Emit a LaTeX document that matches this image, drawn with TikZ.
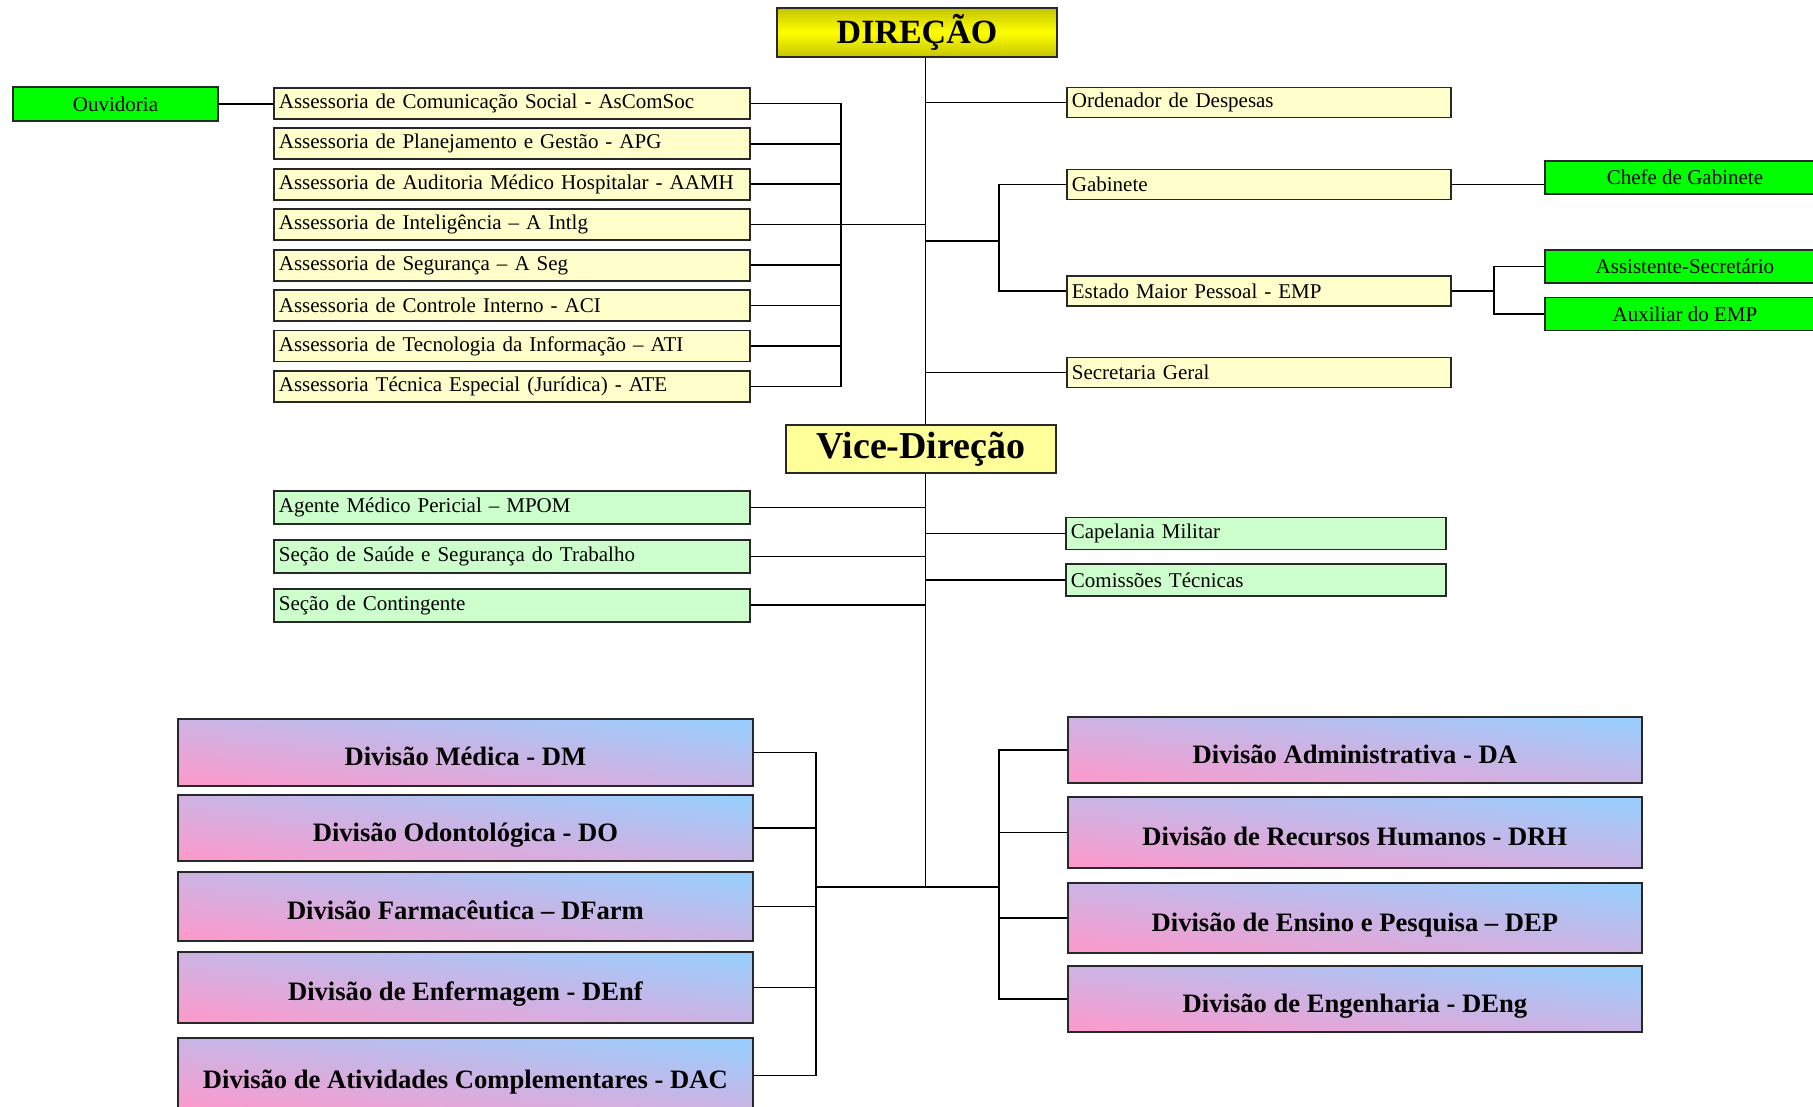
\documentclass[tikz,border=0pt]{standalone}
\usepackage{fontspec}
\setmainfont{Liberation Serif}
\usepackage{xcolor}
\usepackage{tikz}
\usetikzlibrary{positioning}
\definecolor{diredge}{RGB}{196,196,0}
\definecolor{dirmid}{RGB}{255,255,0}
\definecolor{viceyellow}{RGB}{255,255,153}
\definecolor{asyellow}{RGB}{255,255,204}
\definecolor{palegreen}{RGB}{204,255,204}
\definecolor{flashgreen}{RGB}{0,255,0}
\definecolor{divpink}{RGB}{250,155,205}
\definecolor{divblue}{RGB}{155,205,252}
\definecolor{boxline}{RGB}{40,40,40}

\begin{document}
\begin{tikzpicture}[x=0.5pt, y=-0.5pt, node distance=3.8pt]
  \tikzstyle{base}=[rectangle,draw=boxline,line width=0.9pt,inner sep=0pt]
  \tikzstyle{asbox}=[base,fill=asyellow,minimum width=238pt,minimum height=15.5pt,text width=233pt,align=left,font=\fontsize{10.5}{12}\selectfont]
  \tikzstyle{rtbox}=[asbox,minimum width=192pt,text width=187pt,minimum height=15pt]
  \tikzstyle{pgbox}=[asbox,fill=palegreen,minimum height=16.5pt]
  \tikzstyle{pgrt}=[rtbox,fill=palegreen,minimum width=190pt,text width=185pt,minimum height=16pt]
  \tikzstyle{gbox}=[base,fill=flashgreen,minimum width=140pt,minimum height=16.5pt,font=\fontsize{10.5}{12}\selectfont]
  \tikzstyle{dirbox}=[base,top color=diredge,bottom color=diredge,middle color=dirmid,minimum width=140pt,minimum height=24.5pt,font=\bfseries\fontsize{17}{20}\selectfont]
  \tikzstyle{vicebox}=[base,fill=viceyellow,minimum width=135pt,minimum height=24pt,font=\bfseries\fontsize{19}{22}\selectfont]
  \tikzstyle{divbox}=[base,shading=axis,bottom color=divpink,top color=divblue,shading angle=-7,minimum width=287.5pt,text height=13pt,text depth=0pt,font=\bfseries\fontsize{13.3}{15}\selectfont]

  \useasboundingbox (0,0) rectangle (1813,1107);
  \clip (0,0) rectangle (1813,1107);
  \fill[white] (0,0) rectangle (1813,1107);

  \node[dirbox] (dir) at (917,32.5) {DIREÇÃO};
  \node[gbox,minimum width=102.5pt,minimum height=17pt] (ouv) at (115.5,104) {Ouvidoria};

  \node[asbox,anchor=west] (asc1) at (273,103.5) {Assessoria de Comunicação Social - AsComSoc};
  \node[asbox,below=of asc1] (asc2) {Assessoria de Planejamento e Gestão - APG};
  \node[asbox,below=of asc2] (asc3) {Assessoria de Auditoria Médico Hospitalar - AAMH};
  \node[asbox,below=of asc3] (asc4) {Assessoria de Inteligência – A Intlg};
  \node[asbox,below=of asc4] (asc5) {Assessoria de Segurança – A Seg};
  \node[asbox,below=of asc5] (asc6) {Assessoria de Controle Interno - ACI};
  \node[asbox,below=of asc6] (asc7) {Assessoria de Tecnologia da Informação – ATI};
  \node[asbox,below=of asc7] (asc8) {Assessoria Técnica Especial (Jurídica) - ATE};

  \node[rtbox,anchor=west] (ord) at (1066,102.5) {Ordenador de Despesas};
  \node[rtbox,anchor=west] (gab) at (1066,184.5) {Gabinete};
  \node[rtbox,anchor=west] (emp) at (1066,291) {Estado Maior Pessoal - EMP};
  \node[rtbox,anchor=west] (sec) at (1066,372.5) {Secretaria Geral};
  \node[gbox,anchor=west] (chf) at (1544,177.5) {Chefe de Gabinete};
  \node[gbox,anchor=west] (ast) at (1544,266.5) {Assistente-Secretário};
  \node[gbox,anchor=west] (aux) at (1544,314) {Auxiliar do EMP};

  \node[vicebox] (vice) at (921,449) {Vice-Direção};
  \node[pgbox,anchor=west] (mpom) at (273,507.5) {Agente Médico Pericial – MPOM};
  \node[pgbox,below=7pt of mpom] (sst) {Seção de Saúde e Segurança do Trabalho};
  \node[pgbox,below=7pt of sst] (ctg) {Seção de Contingente};
  \node[pgrt,anchor=west] (cap) at (1065,533.5) {Capelania Militar};
  \node[pgrt,anchor=west] (cms) at (1065,580) {Comissões Técnicas};

  \node[divbox,minimum height=33.5pt,anchor=west] (dm) at (177,752.5) {Divisão Médica - DM};
  \node[divbox,minimum height=33pt,anchor=west] (dod) at (177,828) {Divisão Odontológica - DO};
  \node[divbox,minimum height=34.5pt,anchor=west] (dfarm) at (177,906.5) {Divisão Farmacêutica – DFarm};
  \node[divbox,minimum height=35.5pt,anchor=west] (denf) at (177,987.5) {Divisão de Enfermagem - DEnf};
  \node[divbox,minimum height=37.5pt,anchor=west] (dac) at (177,1075.5) {Divisão de Atividades Complementares - DAC};
  \node[divbox,minimum width=287pt,minimum height=33pt,anchor=west] (da) at (1067,750) {Divisão Administrativa - DA};
  \node[divbox,minimum width=287pt,minimum height=35.5pt,anchor=west] (drh) at (1067,832.5) {Divisão de Recursos Humanos - DRH};
  \node[divbox,minimum width=287pt,minimum height=35pt,anchor=west] (dep) at (1067,918) {Divisão de Ensino e Pesquisa – DEP};
  \node[divbox,minimum width=287pt,minimum height=33pt,anchor=west] (deng) at (1067,999) {Divisão de Engenharia - DEng};

  \coordinate (trk) at (925.5,0);
  \coordinate (asbr) at (841,0);
  \coordinate (gbbr) at (999,0);
  \coordinate (gbj) at (999,241);
  \coordinate (empbr) at (1494,0);
  \coordinate (dvl) at (816,0);
  \coordinate (dvr) at (999,0);
  \coordinate (jn) at (925.5,887);

  \draw[thick] (ouv.east) -- (ouv.east -| asc1.west);
  \draw[thick] (asc1.east) -- (asc1.east -| asbr) -- (asc8.east -| asbr) -- (asc8.east);
  \draw[thick] (asc2.east) -- (asc2.east -| asbr);
  \draw[thick] (asc3.east) -- (asc3.east -| asbr);
  \draw[thick] (asc4.east) -- (asc4.east -| trk);
  \draw[thick] (asc5.east) -- (asc5.east -| asbr);
  \draw[thick] (asc6.east) -- (asc6.east -| asbr);
  \draw[thick] (asc7.east) -- (asc7.east -| asbr);

  \draw[thick] (dir.south -| trk) -- (vice.north -| trk);
  \draw[thick] (trk |- ord.west) -- (ord.west);
  \draw[thick] (trk |- sec.west) -- (sec.west);
  \draw[thick] (gab.west) -- (gab.west -| gbbr) -- (emp.west -| gbbr) -- (emp.west);
  \draw[thick] (trk |- gbj) -- (gbj);
  \draw[thick] (gab.east) -- (gab.east -| chf.west);
  \draw[thick] (emp.east) -- (emp.east -| empbr);
  \draw[thick] (ast.west) -- (ast.west -| empbr) -- (aux.west -| empbr) -- (aux.west);

  \draw[thick] (vice.south -| trk) -- (jn);
  \draw[thick] (mpom.east) -- (mpom.east -| trk);
  \draw[thick] (sst.east) -- (sst.east -| trk);
  \draw[thick] (ctg.east) -- (ctg.east -| trk);
  \draw[thick] (trk |- cap.west) -- (cap.west);
  \draw[thick] (trk |- cms.west) -- (cms.west);

  \draw[thick] (jn -| dvl) -- (jn -| dvr);
  \draw[thick] (dm.east) -- (dm.east -| dvl) -- (dac.east -| dvl) -- (dac.east);
  \draw[thick] (dod.east) -- (dod.east -| dvl);
  \draw[thick] (dfarm.east) -- (dfarm.east -| dvl);
  \draw[thick] (denf.east) -- (denf.east -| dvl);
  \draw[thick] (da.west) -- (da.west -| dvr) -- (deng.west -| dvr) -- (deng.west);
  \draw[thick] (drh.west) -- (drh.west -| dvr);
  \draw[thick] (dep.west) -- (dep.west -| dvr);
\end{tikzpicture}
\end{document}
